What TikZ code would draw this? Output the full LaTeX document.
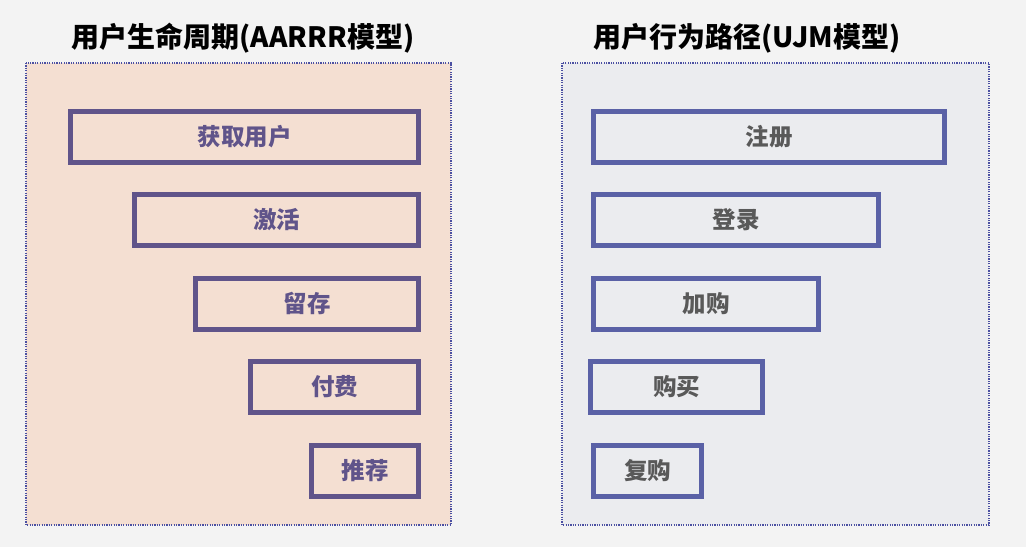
\documentclass[tikz,border=0pt]{standalone}
\usepackage{fontspec}
\newfontfamily\cjk{Noto Sans CJK SC}
\definecolor{bgc}{HTML}{F3F3F3}
\definecolor{lfill}{HTML}{F4DFD2}
\definecolor{rfill}{HTML}{EBECEF}
\definecolor{lline}{HTML}{60548A}
\definecolor{rline}{HTML}{5A61A6}
\definecolor{dotc}{HTML}{4B50A2}
\definecolor{rtext}{HTML}{595959}
\tikzset{
  panel/.style={draw=dotc, line width=1.3pt, dash pattern=on 1.2pt off 1.2pt},
  boxbase/.style={rectangle, line width=5pt, inner sep=0pt, outer sep=0pt, minimum height=51pt, font=\cjk\bfseries\fontsize{23.5}{26}\selectfont},
  lbox/.style={boxbase, draw=lline, text=lline},
  rbox/.style={boxbase, draw=rline, text=rtext},
  ttl/.style={font=\cjk\bfseries\fontsize{28}{32}\selectfont, text=black, inner sep=0pt}
}
\begin{document}
\begin{tikzpicture}[x=1pt,y=-1pt]
\useasboundingbox (0,0) rectangle (1026,547);
\fill[bgc] (0,0) rectangle (1026,547);
\fill[lfill] (26,63) rectangle (451,525);
\draw[panel] (26,63) rectangle (451,525);
\fill[rfill] (562,63) rectangle (989,525);
\draw[panel] (562,63) rectangle (989,525);
\node[ttl] (tl) at (243,38) {用户生命周期(AARRR模型)};
\node[ttl] (tr) at (747,38) {用户行为路径(UJM模型)};
\node[lbox, minimum width=348pt] (l1) at (244.5,136.5) {获取用户};
\node[lbox, minimum width=284pt] (l2) at (276.5,220) {激活};
\node[lbox, minimum width=223pt] (l3) at (307,303.5) {留存};
\node[lbox, minimum width=168pt] (l4) at (334.5,387) {付费};
\node[lbox, minimum width=107pt] (l5) at (365,470.5) {推荐};
\node[rbox, minimum width=351pt] (r1) at (769,136.5) {注册};
\node[rbox, minimum width=285pt] (r2) at (736,220) {登录};
\node[rbox, minimum width=225pt] (r3) at (706,303.5) {加购};
\node[rbox, minimum width=172pt] (r4) at (676.5,387) {购买};
\node[rbox, minimum width=108pt] (r5) at (647.5,470.5) {复购};
\end{tikzpicture}
\end{document}
